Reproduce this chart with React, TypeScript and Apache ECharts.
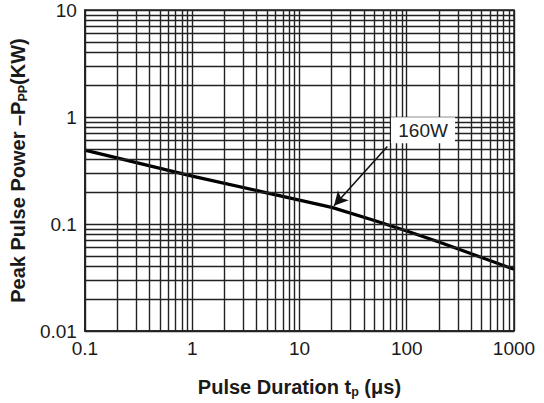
import React, { useEffect, useRef } from "react";
import * as echarts from "echarts";

// Curve: pulse duration (µs) vs peak pulse power (kW)
const pulseDuration = [0.1, 1, 10, 20, 50, 100, 200, 1000];
const peakPower = [0.49, 0.28, 0.167, 0.143, 0.108, 0.086, 0.068, 0.0377];

// Axis ticks
const xTicks = [0.1, 1, 10, 100, 1000];
const xTickLabels = ["0.1", "1", "10", "100", "1000"];
const yTicks = [0.01, 0.1, 1, 10];
const yTickLabels = ["0.01", "0.1", "1", "10"];

// Grid-line multipliers within each decade
const decadeSteps = [1, 2, 3, 4, 5, 6, 7, 8, 9];

// Annotation
const annotationText = "160W";
const arrowFrom = [66, 0.53];
const arrowTo = [21, 0.148];
const labelAt = [142, 0.75];

const FONT = "'Liberation Sans', Arial, sans-serif";

function labelFor(v: number, ticks: number[], labels: string[]) {
  let best = -1;
  let bestD = Infinity;
  ticks.forEach((t, i) => {
    const d = Math.abs(Math.log10(v) - Math.log10(t));
    if (d < bestD) {
      bestD = d;
      best = i;
    }
  });
  return bestD < 0.01 ? labels[best] : "";
}

function gridValues(ticks: number[]) {
  const out: number[] = [];
  for (let i = 0; i < ticks.length - 1; i++) {
    decadeSteps.forEach((s) => out.push(ticks[i] * s));
  }
  out.push(ticks[ticks.length - 1]);
  return out;
}

export default function App() {
  const ref = useRef<HTMLDivElement>(null);
  useEffect(() => {
    if (!ref.current) return;
    const chart = echarts.init(ref.current, null, { renderer: "svg" });
    const line = pulseDuration.map((x, i) => [x, peakPower[i]]);
    const gridLines = [
      ...gridValues(xTicks).map((v) => ({ xAxis: v })),
      ...gridValues(yTicks).map((v) => ({ yAxis: v })),
    ];
    const titleRich = {
      a: { fontFamily: FONT, fontWeight: "bold", fontSize: 20, color: "#1a1a1a" },
      s: {
        fontFamily: FONT,
        fontWeight: "bold",
        fontSize: 12.5,
        color: "#1a1a1a",
        padding: [9, 0, 0, 0],
      },
    };
    chart.setOption({
      animation: false,
      backgroundColor: "#fff",
      grid: {
        left: 76,
        right: 30,
        top: 10,
        bottom: 70,
        show: true,
        borderColor: "#222",
        borderWidth: 1.5,
        backgroundColor: "#fff",
      },
      xAxis: {
        type: "log",
        logBase: 10,
        min: 0.1,
        max: 1000,
        axisLine: { show: true, lineStyle: { color: "#222", width: 1.5 } },
        axisTick: { show: false },
        splitLine: { show: false },
        axisLabel: {
          fontFamily: FONT,
          fontSize: 19,
          color: "#1a1a1a",
          margin: 8,
          formatter: (v: number) => labelFor(v, xTicks, xTickLabels),
        },
        name: "{a|Pulse Duration t}{s|p}{a| (μs)}",
        nameLocation: "middle",
        nameGap: 45,
        nameTextStyle: { rich: titleRich },
      },
      yAxis: {
        type: "log",
        logBase: 10,
        min: 0.01,
        max: 10,
        axisLine: { show: true, lineStyle: { color: "#222", width: 1.5 } },
        axisTick: { show: false },
        splitLine: { show: false },
        axisLabel: {
          fontFamily: FONT,
          fontSize: 19,
          color: "#1a1a1a",
          margin: 8,
          formatter: (v: number) => labelFor(v, yTicks, yTickLabels),
        },
        name: "{a|Peak Pulse Power –P}{s|PP}{a|(KW)}",
        nameLocation: "middle",
        nameRotate: 90,
        nameGap: 53,
        nameTextStyle: { rich: titleRich },
      },
      series: [
        {
          type: "line",
          z: 1,
          data: line,
          symbol: "none",
          lineStyle: { opacity: 0 },
          silent: true,
          markLine: {
            silent: true,
            symbol: ["none", "none"],
            label: { show: false },
            lineStyle: { color: "#222", width: 1.4, type: "solid" },
            data: gridLines,
          },
        },
        {
          type: "line",
          z: 3,
          data: line,
          symbol: "none",
          lineStyle: { color: "#000", width: 3.2 },
          markLine: {
            silent: true,
            symbol: ["none", "arrow"],
            symbolSize: [11, 14],
            label: { show: false },
            lineStyle: { color: "#111", width: 1.6, type: "solid" },
            data: [[{ coord: arrowFrom }, { coord: arrowTo }]],
          },
          markPoint: {
            silent: true,
            symbol: "rect",
            symbolSize: [64, 26],
            itemStyle: { color: "#fff" },
            label: {
              show: true,
              position: "inside",
              formatter: annotationText,
              fontFamily: FONT,
              fontSize: 19,
              color: "#222",
            },
            data: [{ coord: labelAt }],
          },
        },
      ],
    });
    return () => chart.dispose();
  }, []);
  return (
    <div
      ref={ref}
      style={{ position: "fixed", left: 0, top: 0, width: 544, height: 403, background: "#fff" }}
    />
  );
}
